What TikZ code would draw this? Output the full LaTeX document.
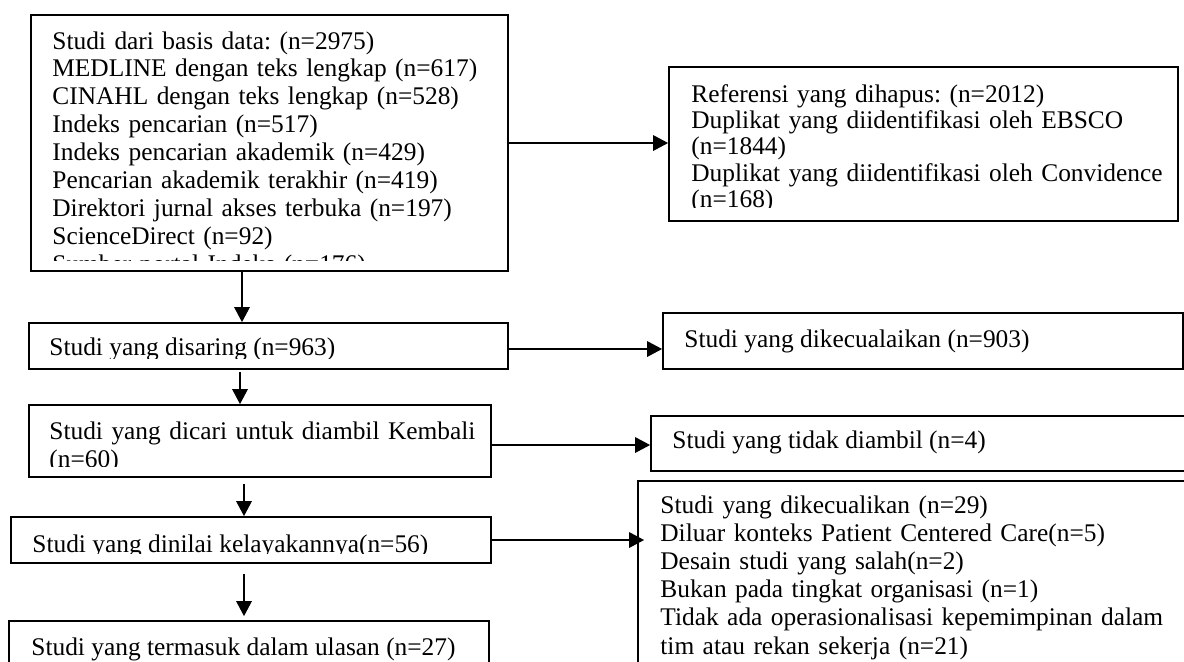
\documentclass[tikz,border=0pt]{standalone}
\usepackage{fontspec}
\setmainfont{Liberation Serif}
\usetikzlibrary{positioning, fit, arrows.meta}
\definecolor{InkBlack}{HTML}{000000}
\frenchspacing

\begin{document}
\begin{tikzpicture}[x=0.5pt, y=-0.5pt,
    box/.style={draw=InkBlack, line width=0.9pt, inner sep=0pt},
    txt/.style={anchor=base west, inner sep=0pt, align=left,
                font=\fontsize{12.7}{14}\selectfont},
    arr/.style={draw=InkBlack, line width=0.65pt,
                -{Triangle[length=7.5pt, width=7.8pt]}}]
  \clip (0,0) rectangle (1184,661);
  \fill[white] (0,0) rectangle (1184,661);

  % boxes
  \node[box, fit={(31,15) (508,271)}]    (db) {};
  \node[box, fit={(669,67) (1178,221)}]  (dup) {};
  \node[box, fit={(29,323) (508,369)}]   (screen) {};
  \node[box, fit={(663,313) (1183,369)}] (excl) {};
  \node[box, fit={(29,405) (491,477)}]   (retr) {};
  \node[box, fit={(651,416) (1200,471)}] (notretr) {};
  \node[box, fit={(11,517) (491,563)}]   (elig) {};
  \node[box, fit={(638,481) (1200,700)}] (exclfull) {};
  \node[box, fit={(9,621) (489,700)}]    (incl) {};

  % texts
  \begin{scope}
    \clip (db.north west) rectangle ([yshift=5.5pt]db.south east);
    \node[txt, text width=235pt, font=\fontsize{12.7}{13.95}\selectfont] (dbtext) at (52,49)
      {Studi dari basis data: (n=2975)\\
       MEDLINE dengan teks lengkap (n=617)\\
       CINAHL dengan teks lengkap (n=528)\\
       Indeks pencarian (n=517)\\
       Indeks pencarian akademik (n=429)\\
       Pencarian akademik terakhir (n=419)\\
       Direktori jurnal akses terbuka (n=197)\\
       ScienceDirect (n=92)\\
       Sumber portal Indeks (n=176)};
  \end{scope}
  \begin{scope}
    \clip (dup.north west) rectangle ([yshift=7pt]dup.south east);
    \node[txt, text width=250pt, font=\fontsize{12.7}{13.2}\selectfont] (duptext) at (691,102)
      {Referensi yang dihapus: (n=2012)\\
       \makebox[231.5pt][s]{Duplikat yang diidentifikasi oleh EBSCO}\\
       (n=1844)\\
       \mbox{Duplikat yang diidentifikasi oleh Convidence}\\
       (n=168)};
  \end{scope}
  \begin{scope}
    \clip (screen.north west) rectangle ([yshift=5.5pt]screen.south east);
    \node[txt] (screentext) at (49,355) {Studi yang disaring (n=963)};
  \end{scope}
  \node[txt] (excltext) at (684,347) {Studi yang dikecualaikan (n=903)};
  \begin{scope}
    \clip (retr.north west) rectangle ([yshift=5.5pt]retr.south east);
    \node[txt, text width=225pt] (retrtext) at (49,439)
      {Studi yang dicari untuk diambil Kembali\\ (n=60)};
  \end{scope}
  \node[txt] (notretrtext) at (672,448) {Studi yang tidak diambil (n=4)};
  \begin{scope}
    \clip (elig.north west) rectangle ([yshift=5pt]elig.south east);
    \node[txt] (eligtext) at (32,552) {Studi yang dinilai kelayakannya(n=56)};
  \end{scope}
  \node[txt, text width=257.5pt, font=\fontsize{12.7}{14.1}\selectfont] (exclfulltext) at (660,513)
    {Studi yang dikecualikan (n=29)\\
     Diluar konteks Patient Centered Care(n=5)\\
     Desain studi yang salah(n=2)\\
     Bukan pada tingkat organisasi (n=1)\\
     \makebox[257.5pt][s]{Tidak ada operasionalisasi kepemimpinan dalam}\\
     tim atau rekan sekerja (n=21)};
  \node[txt] (incltext) at (31,655) {Studi yang termasuk dalam ulasan (n=27)};

  % connectors
  \coordinate (colA) at (242,0);
  \coordinate (colB) at (240,0);
  \coordinate (colC) at (244,0);
  \draw[arr] (db.south -| colA) -- (screen.north -| colA);
  \draw[arr, shorten <=1pt] (screen.south -| colB) -- (retr.north -| colB);
  \draw[arr, shorten <=3pt] (retr.south -| colC) -- (elig.north -| colC);
  \draw[arr, shorten <=5pt, shorten >=2pt] (elig.south -| colC) -- (incl.north -| colC);
  \draw[arr] (db.east) -- (db.east -| dup.west);
  \draw[arr] ([yshift=-1.5pt]screen.east) -- ([yshift=-1.5pt]screen.east -| excl.west);
  \draw[arr] ([yshift=-2pt]retr.east) -- ([yshift=-2pt]retr.east -| notretr.west);
  \draw[arr, shorten >=-3.5pt] (elig.east) -- (elig.east -| exclfull.west);
\end{tikzpicture}
\end{document}
